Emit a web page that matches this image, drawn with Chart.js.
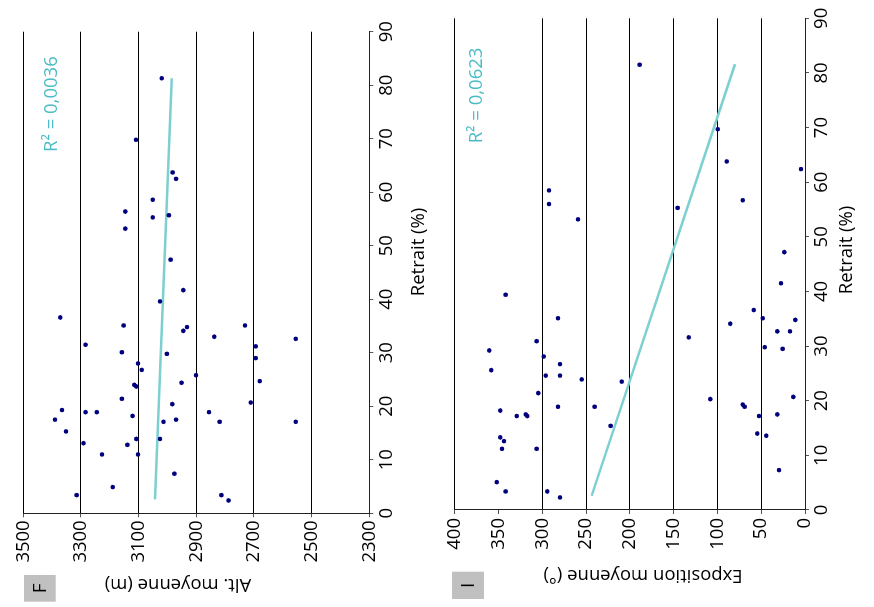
<!DOCTYPE html>
<html><head><meta charset="utf-8">
<script src="https://cdn.jsdelivr.net/npm/chart.js@4"></script>
<style>
html,body{margin:0;padding:0;background:#fff;overflow:hidden;width:874px;height:607px;}
#rot{position:absolute;left:0;top:0;width:607px;height:874px;transform-origin:0 0;transform:translate(0px,607px) rotate(-90deg);}
canvas{position:absolute;left:0;}
</style></head><body>
<div id="rot">
<canvas id="cF" width="607" height="434" style="top:0px"></canvas>
<canvas id="cI" width="607" height="440" style="top:434px"></canvas>
</div>
<script>
// ---- tick labels ----
const retraitTicks = [0,10,20,30,40,50,60,70,80,90];
const altTicks = [2300,2500,2700,2900,3100,3300,3500];
const expoTicks = [0,50,100,150,200,250,300,350,400];

// ---- panel F : Retrait (%) vs Alt. moyenne (m) ----
const retraitF = [81.3,69.8,63.7,62.5,58.6,56.4,55.3,55.7,53.2,47.4,41.7,39.6,36.6,35.1,35.1,34.8,34.1,33.0,32.6,31.5,31.2,30.1,29.8,29.0,28.0,26.8,25.8,24.7,24.4,24.0,23.7,21.4,20.7,20.4,19.3,18.9,18.9,18.9,18.2,17.5,17.5,17.1,17.1,17.1,15.3,13.1,12.8,13.9,13.9,11.0,11.0,7.4,4.9,3.4,3.4,2.4];
const altF = [3020,3109,2982,2970,3051,3146,3051,2995,3146,2989,2945,3026,3372,3152,2731,2932,2945,2838,2555,3284,2694,3158,3002,2694,3102,3089,2901,2680,2951,3115,3108,3158,2711,2983,3366,3284,3245,2856,3121,3390,2970,3014,2819,2555,3352,3291,3139,3108,3026,3227,3102,2976,3190,3315,2813,2788];
const trendRetraitF = [2.6, 81.3];
const trendAltF = [3043, 2985];
const r2F = "R\u00B2 = 0,0036";

// ---- panel I : Retrait (%) vs Exposition moyenne (°) ----
const retraitI = [81.5,69.7,63.8,62.4,58.5,56.0,56.7,55.3,53.2,47.2,41.5,39.4,36.6,35.1,35.1,34.8,34.1,32.7,32.7,31.6,30.9,29.8,29.5,29.2,28.1,26.7,25.6,24.6,24.6,23.9,23.5,21.4,20.7,20.3,19.3,18.9,18.9,18.9,18.2,17.5,17.5,17.2,17.2,17.2,15.4,14.0,13.6,13.3,12.6,11.2,11.2,7.3,5.1,3.4,3.4,2.3];
const expoI = [188.8,99.7,89.4,4.6,292.3,292.3,71.1,145.4,259.2,23.6,27.4,341.8,58.6,282,48.3,11.0,85.3,31.6,17.1,132.8,306.4,46.0,25.5,360.5,298.4,279.8,358.2,296.1,279.8,255.0,209.3,304.5,13.3,108.1,71.1,68.9,282.0,240.2,348.0,31.6,318.9,317.1,329.2,52.5,221.9,54.5,44.2,348.0,343.7,346.0,306.4,29.7,352.0,341.8,294.3,279.8];
const trendRetraitI = [2.6, 81.6];
const trendExpoI = [243.6, 79.9];
const r2I = "R\u00B2 = 0,0623";

const FONT = "'Open Sans', 'Noto Sans', 'DejaVu Sans', sans-serif";
Chart.defaults.font.family = FONT;
Chart.defaults.font.size = 18.5;
Chart.defaults.color = '#000';

const DOT = '#00007f';
const TREND = '#7ecfd0';
const R2COL = '#4cbcc4';

function pts(xs, ys){ return xs.map((x,i)=>({x:x,y:ys[i]})); }

function makeChart(id, o){
  const textPlugin = {
    id:'txt',
    afterDraw(chart){
      const c = chart.ctx;
      c.save();
      // panel letter box
      c.fillStyle = '#c0c0c0';
      c.fillRect(o.box[0], o.box[1], o.box[2], o.box[3]);
      c.fillStyle = '#000';
      c.font = '19px ' + FONT;
      c.textAlign = 'center'; c.textBaseline = 'middle';
      c.fillText(o.letter, o.box[0]+o.box[2]/2, o.box[1]+o.box[3]/2+1);
      // R2
      c.fillStyle = R2COL;
      c.font = '18.5px ' + FONT;
      c.textAlign = 'left'; c.textBaseline = 'alphabetic';
      c.fillText(o.r2, o.r2pos[0], o.r2pos[1]);
      // x title
      c.fillStyle = '#000';
      c.textAlign = 'center'; c.textBaseline = 'middle';
      c.fillText('Retrait (%)', o.xt[0], o.xt[1]);
      // y title
      c.translate(o.yt[0], o.yt[1]);
      c.rotate(-Math.PI/2);
      c.fillText(o.ytitle, 0, 0);
      c.restore();
    }
  };
  return new Chart(document.getElementById(id), {
    type:'scatter',
    data:{ datasets:[
      { data: pts(o.tx, o.ty), showLine:true, borderColor:TREND, borderWidth:2.5, pointRadius:0, order:2 },
      { data: pts(o.xs, o.ys), backgroundColor:DOT, borderColor:DOT, borderWidth:0, pointRadius:2.3, order:1 }
    ]},
    options:{
      responsive:false, animation:false, devicePixelRatio:1,
      layout:{ padding:{ top:o.pad[0], right:o.pad[1], bottom:0, left:0 } },
      plugins:{ legend:{display:false}, tooltip:{enabled:false} },
      scales:{
        x:{ type:'linear', min:0, max:90,
            afterBuildTicks: s => { s.ticks = retraitTicks.map(v=>({value:v})); },
            afterFit: s => { s.height = o.xh; },
            ticks:{ padding:2, maxRotation:0, autoSkip:false, callback: v => String(v) },
            grid:{ drawOnChartArea:false, drawTicks:true, tickLength:4, tickColor:'#555' },
            border:{ display:true, color:'#222', width:1 } },
        y:{ type:'linear', min:o.ymin, max:o.ymax,
            afterBuildTicks: s => { s.ticks = o.yticks.map(v=>({value:v})); },
            afterFit: s => { s.width = o.yw; },
            ticks:{ padding:o.ypad, autoSkip:false, callback: v => String(v) },
            grid:{ color: o.gridColor, lineWidth:1, drawTicks:true, tickLength:4, tickColor:'#555' },
            border:{ display:true, color:'#222', width:1 } }
      }
    },
    plugins:[textPlugin]
  });
}

makeChart('cF', {
  xs:retraitF, ys:altF, tx:trendRetraitF, ty:trendAltF,
  ymin:2300, ymax:3500, yticks:altTicks, ytitle:'Alt. moyenne (m)',
  pad:[23.3, 31.7], xh:64.7, yw:93.7, ypad:3,
  gridColor:'#000',
  letter:'F', box:[5.3,24,26.7,31.7], r2:r2F, r2pos:[455,57], xt:[355,419], yt:[23,178]
});
makeChart('cI', {
  xs:retraitI, ys:expoI, tx:trendRetraitI, ty:trendExpoI,
  ymin:0, ymax:400, yticks:expoTicks, ytitle:'Exposition moyenne (\u00B0)',
  pad:[20.7, 18.3], xh:69, yw:97, ypad:4,
  gridColor: ctx => (ctx.tick && ctx.tick.value === 350) ? 'rgba(0,0,0,0)' : '#000',
  letter:'I', box:[8,18,27.3,32], r2:r2I, r2pos:[463.7,48], xt:[357,413], yt:[32,209]
});
</script>
</body></html>
